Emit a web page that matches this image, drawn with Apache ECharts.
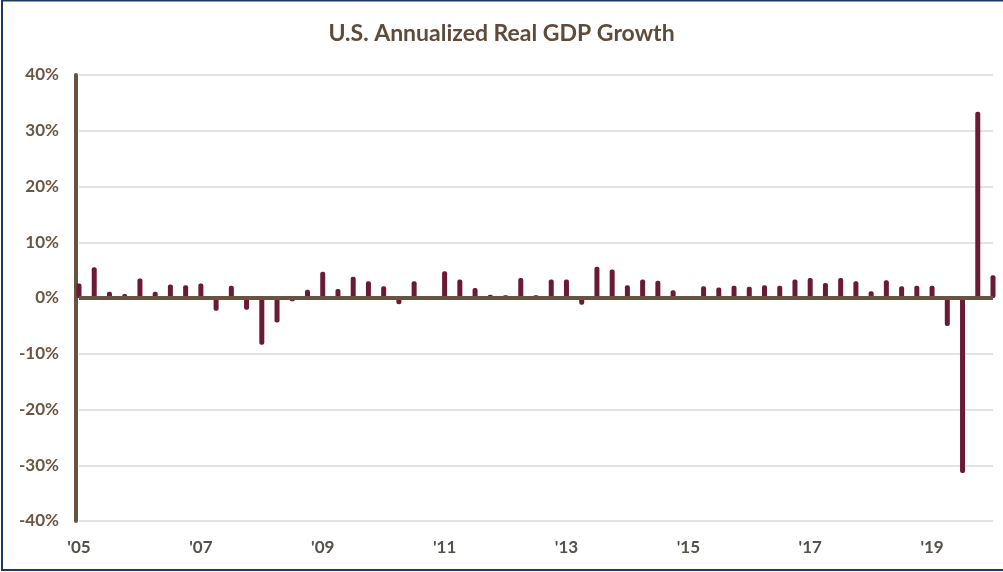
<!DOCTYPE html>
<html>
<head>
<meta charset="utf-8">
<script src="https://cdn.jsdelivr.net/npm/echarts@6/dist/echarts.min.js"></script>
<style>
html,body{margin:0;padding:0;background:#fff;}
#chart{width:1003px;height:572px;}
</style>
</head>
<body>
<div id="chart"></div>
<script>
const quarters = [
  "2005Q4",
  "2006Q1","2006Q2","2006Q3","2006Q4",
  "2007Q1","2007Q2","2007Q3","2007Q4",
  "2008Q1","2008Q2","2008Q3","2008Q4",
  "2009Q1","2009Q2","2009Q3","2009Q4",
  "2010Q1","2010Q2","2010Q3","2010Q4",
  "2011Q1","2011Q2","2011Q3","2011Q4",
  "2012Q1","2012Q2","2012Q3","2012Q4",
  "2013Q1","2013Q2","2013Q3","2013Q4",
  "2014Q1","2014Q2","2014Q3","2014Q4",
  "2015Q1","2015Q2","2015Q3","2015Q4",
  "2016Q1","2016Q2","2016Q3","2016Q4",
  "2017Q1","2017Q2","2017Q3","2017Q4",
  "2018Q1","2018Q2","2018Q3","2018Q4",
  "2019Q1","2019Q2","2019Q3","2019Q4",
  "2020Q1","2020Q2","2020Q3","2020Q4"
];
const gdpGrowth = [
  2.6,
  5.5,1.1,0.7,3.5,
  1.1,2.4,2.3,2.6,
  -2.3,2.2,-2.1,-8.4,
  -4.4,-0.6,1.5,4.7,
  1.6,3.8,3.0,2.1,
  -1.1,3.0,-0.1,4.8,
  3.3,1.8,0.6,0.5,
  3.6,0.5,3.3,3.3,
  -1.2,5.6,5.1,2.3,
  3.3,3.1,1.4,0.1,
  2.1,1.9,2.2,2.0,
  2.3,2.2,3.3,3.6,
  2.7,3.6,3.0,1.2,
  3.2,2.1,2.2,2.2,
  -5.0,-31.4,33.4,4.1
];
const yMin = -40, yMax = 40, yStep = 10;
const titleText = "U.S. Annualized Real GDP Growth";

const brown = '#67533f';
const chart = echarts.init(document.getElementById('chart'));
chart.setOption({
  animation: false,
  backgroundColor: '#ffffff',
  title: {
    text: titleText,
    left: 'center',
    top: 17,
    textStyle: { fontFamily: 'Lato', fontWeight: 'bold', fontSize: 23, color: '#5f4b3a' }
  },
  graphic: [{
    type: 'rect',
    shape: { x: 2, y: 0.5, width: 1010, height: 569.5 },
    style: { fill: 'none', stroke: '#1f3a62', lineWidth: 2 },
    silent: true
  }],
  grid: { left: 79, right: 10, top: 75, bottom: 51 },
  xAxis: {
    type: 'category',
    data: quarters,
    boundaryGap: false,
    axisLine: { show: false, onZero: false },
    axisTick: { show: false },
    splitLine: { show: false },
    axisLabel: {
      interval: 7,
      margin: 18,
      fontFamily: 'Lato',
      fontWeight: 'bold',
      fontSize: 17,
      color: '#54504a',
      formatter: v => "'" + v.slice(2, 4)
    }
  },
  yAxis: {
    type: 'value',
    min: yMin, max: yMax, interval: yStep,
    offset: 3,
    axisLine: { show: true, lineStyle: { color: brown, width: 4 } },
    axisTick: { show: false },
    splitLine: { show: true, lineStyle: { color: '#dedad5', width: 1.5 } },
    axisLabel: {
      margin: 17,
      fontFamily: 'Lato',
      fontWeight: 'bold',
      fontSize: 17,
      color: '#6a5645',
      formatter: '{value}%'
    }
  },
  series: [{
    type: 'bar',
    data: gdpGrowth,
    barWidth: 5,
    itemStyle: { color: '#6b1a35', borderRadius: 2 },
    markLine: {
      silent: true,
      symbol: 'none',
      label: { show: false },
      lineStyle: { color: brown, width: 4, type: 'solid' },
      data: [{ yAxis: 0 }]
    }
  }]
});
</script>
</body>
</html>
